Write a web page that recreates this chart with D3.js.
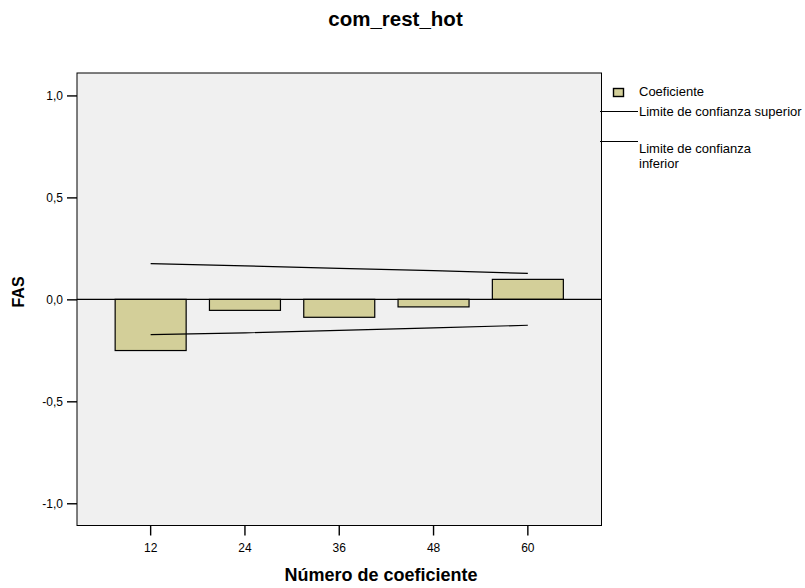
<!DOCTYPE html>
<html><head><meta charset="utf-8">
<script src="https://cdn.jsdelivr.net/npm/d3@7"></script>
<style>body{margin:0;background:#fff;} text{font-family:"Liberation Sans",Arial,sans-serif;}</style>
</head><body>
<svg id="c" width="805" height="588"></svg>
<script>
const lags = ["12","24","36","48","60"];
const coef = [-0.251, -0.054, -0.088, -0.037, 0.098];
const upper = [0.175, 0.164, 0.152, 0.141, 0.127];
const lower = [-0.173, -0.164, -0.152, -0.140, -0.127];
const yTicks = [-1.0, -0.5, 0.0, 0.5, 1.0];
const title = "com_rest_hot";

const svg = d3.select("#c");
const L = 77, R = 601.5, T = 73, B = 525.5;
const x = d3.scaleBand().domain(lags).range([L, R]).paddingOuter(0.281).paddingInner(0);
const y = d3.scaleLinear().domain([-1.109, 1.11]).range([B, T]);

svg.append("rect").attr("x", L).attr("y", T).attr("width", R - L).attr("height", B - T)
  .attr("fill", "#f0f0f0").attr("stroke", "#000").attr("stroke-width", 1);

const bw = 71;
svg.append("g").selectAll("rect").data(coef).join("rect")
  .attr("x", (d, i) => x(lags[i]) + x.bandwidth() / 2 - bw / 2)
  .attr("y", d => y(Math.max(0, d)))
  .attr("width", bw)
  .attr("height", d => Math.abs(y(d) - y(0)))
  .attr("fill", "#d3cf99").attr("stroke", "#000").attr("stroke-width", 1.2);

svg.append("line").attr("x1", L).attr("x2", R).attr("y1", y(0)).attr("y2", y(0))
  .attr("stroke", "#000").attr("stroke-width", 1.2);

const line = d3.line().x((d, i) => x(lags[i]) + x.bandwidth() / 2).y(d => y(d));
svg.append("path").attr("d", line(upper)).attr("fill", "none").attr("stroke", "#000").attr("stroke-width", 1.2);
svg.append("path").attr("d", line(lower)).attr("fill", "none").attr("stroke", "#000").attr("stroke-width", 1.2);

const fmt = d => d3.format(".1f")(d).replace(".", ",").replace("−", "-");
const ya = svg.append("g").attr("transform", `translate(${L},0)`)
  .call(d3.axisLeft(y).tickValues(yTicks).tickSize(10).tickPadding(4).tickFormat(fmt));
ya.select(".domain").remove();
ya.selectAll("line").attr("stroke-width", 1.4);
ya.selectAll("text").attr("font-size", 12).attr("fill", "#000");

const xa = svg.append("g").attr("transform", `translate(0,${B})`)
  .call(d3.axisBottom(x).tickSize(10).tickPadding(8));
xa.select(".domain").remove();
xa.selectAll("line").attr("stroke-width", 1.4);
xa.selectAll("text").attr("font-size", 12).attr("fill", "#000");

svg.append("text").attr("x", 395.5).attr("y", 26).attr("text-anchor", "middle")
  .attr("font-size", 20.5).attr("font-weight", "bold").text(title);
svg.append("text").attr("x", 381).attr("y", 581).attr("text-anchor", "middle")
  .attr("font-size", 18).attr("font-weight", "bold").text("Número de coeficiente");
svg.append("text").attr("transform", "translate(23.5,292) rotate(-90)").attr("text-anchor", "middle")
  .attr("font-size", 16).attr("font-weight", "bold").text("FAS");

// legend
const lg = svg.append("g");
lg.append("rect").attr("x", 613.5).attr("y", 88.5).attr("width", 10).attr("height", 8)
  .attr("fill", "#d3cf99").attr("stroke", "#000").attr("stroke-width", 1.4);
lg.append("text").attr("x", 639).attr("y", 96).attr("font-size", 13).text("Coeficiente");
lg.append("line").attr("x1", 600).attr("x2", 638).attr("y1", 111.5).attr("y2", 111.5).attr("stroke", "#000").attr("stroke-width", 1.2);
lg.append("text").attr("x", 639).attr("y", 116).attr("font-size", 13).text("Limite de confianza superior");
lg.append("line").attr("x1", 600).attr("x2", 638).attr("y1", 141.5).attr("y2", 141.5).attr("stroke", "#000").attr("stroke-width", 1.2);
lg.append("text").attr("x", 639).attr("y", 152.5).attr("font-size", 13).text("Limite de confianza");
lg.append("text").attr("x", 639).attr("y", 167.8).attr("font-size", 13).text("inferior");
</script>
</body></html>
